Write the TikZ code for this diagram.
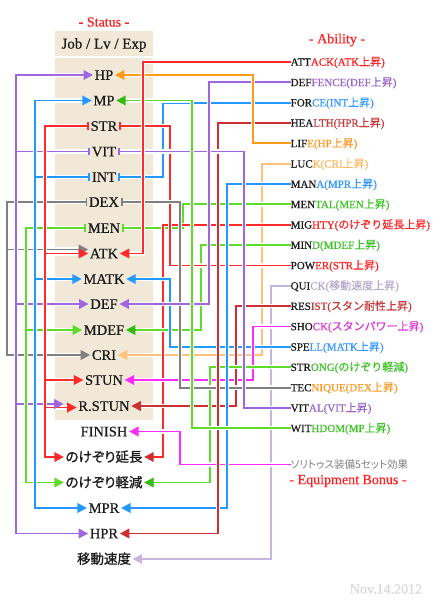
\documentclass[tikz,border=0pt]{standalone}
\usepackage{fontspec}
\setmainfont[RawFeature={embolden=0.5}]{Liberation Serif}
\newfontfamily\cjk[RawFeature={embolden=0.3}]{Noto Sans CJK JP}
\newfontfamily\cjkp[RawFeature={+palt;embolden=1}]{Noto Sans CJK JP}
\newfontfamily\cjkg[RawFeature={+palt}]{Noto Sans CJK JP}
\usetikzlibrary{arrows.meta}
\newcommand\J[1]{{\cjk #1}}
\definecolor{cRed}{HTML}{FF2A2A}
\definecolor{cDRed}{HTML}{CC3030}
\definecolor{cOrange}{HTML}{FF9A1A}
\definecolor{cLOrange}{HTML}{FFC27A}
\definecolor{cPurple}{HTML}{A066DD}
\definecolor{cBlue}{HTML}{2299FF}
\definecolor{cGreen}{HTML}{5FDB2C}
\definecolor{cGreenD}{HTML}{33BB11}
\definecolor{cGray}{HTML}{808080}
\definecolor{cMag}{HTML}{FF2BFF}
\definecolor{cLPurple}{HTML}{C6B6DE}
\definecolor{cBeige}{HTML}{F1E8D8}
\definecolor{cTitle}{HTML}{FF2222}
\definecolor{tRed}{HTML}{FF2222}
\definecolor{tDRed}{HTML}{C83A3A}
\definecolor{tOrange}{HTML}{FF9922}
\definecolor{tLOrange}{HTML}{FFB860}
\definecolor{tPurple}{HTML}{9A66CC}
\definecolor{tBlue}{HTML}{3399FF}
\definecolor{tGreen}{HTML}{3CC425}
\definecolor{tMag}{HTML}{DD33DD}
\definecolor{tLPurple}{HTML}{B8A8C8}
\definecolor{tBlack}{HTML}{1A1A1A}
\tikzset{
  ttl/.style={text=cTitle, font=\fontsize{14}{16}\selectfont, inner sep=0pt},
  st/.style={font=\fontsize{14.5}{16}\selectfont, inner sep=1.5pt, text height=9.6pt, text depth=0pt, text=tBlack},
  stj/.style={st, font=\cjkp\fontsize{13.5}{16}\selectfont},
  ab/.style={anchor=west, inner sep=0pt, font=\fontsize{11}{13}\selectfont, text height=7.4pt, text depth=0pt, text=tBlack},
  soltext/.style={anchor=west, inner sep=0pt, font=\cjkg\fontsize{10.5}{12}\selectfont, text height=7.4pt, text depth=0pt, text=cGray},
  ln/.style={line width=1.9pt, preaction={draw=white, line width=4.3pt}},
  atip/.style={line width=1.9pt, -{Triangle[length=9.5pt,width=9.5pt]}},
  btip/.style={line width=1.9pt, {Bar[width=7.5pt,line width=1.9pt]}-},
}
\begin{document}
\begin{tikzpicture}[x=1pt,y=-1pt]
\fill[white] (0,0) rectangle (433,600);
\useasboundingbox (0,0) rectangle (433,600);
% status panel
\fill[cBeige] (55,31) rectangle (153,420);
\draw[white, line width=1.2pt] (55,57) -- (153,57);
\node[ttl] (tst) at (104,22) {- Status -};
\node[font=\fontsize{15}{17}\selectfont, text=tBlack] (hdr) at (104,45) {Job / Lv / Exp};
\node[ttl] (tab) at (337,40) {- Ability -};
% status nodes
\node[st] (hp) at (104,75) {HP};
\node[st] (mp) at (104,100.5) {MP};
\node[st] (str) at (104,126) {STR};
\node[st] (vit) at (104,151.5) {VIT};
\node[st] (int) at (104,177) {INT};
\node[st] (dex) at (104,202) {DEX};
\node[st] (men) at (104,228) {MEN};
\node[st] (atk) at (104,253.5) {ATK};
\node[st] (matk) at (104,279) {MATK};
\node[st] (def) at (104,304) {DEF};
\node[st] (mdef) at (104,330) {MDEF};
\node[st] (cri) at (104,355) {CRI};
\node[st] (stun) at (104,380) {STUN};
\node[st] (rstun) at (104,406) {R.STUN};
\node[st] (fin) at (104,431.5) {FINISH};
\node[stj] (nob) at (104,457) {のけぞり延長};
\node[stj] (nok) at (104,482.5) {のけぞり軽減};
\node[st] (mpr) at (104,508) {MPR};
\node[st] (hpr) at (104,533.5) {HPR};
\node[stj] (ido) at (104,559) {移動速度};
% ability nodes
\node[ab] (attack) at (290.5,62) {ATT\textcolor{tRed}{ACK(ATK\J{上昇})}};
\node[ab] (deff) at (290.5,82.4) {DEF\textcolor{tPurple}{FENCE(DEF\J{上昇})}};
\node[ab] (force) at (290.5,102.7) {FOR\textcolor{tBlue}{CE(INT\J{上昇})}};
\node[ab] (health) at (290.5,123) {HEA\textcolor{tDRed}{LTH(HPR\J{上昇})}};
\node[ab] (life) at (290.5,143.4) {LIF\textcolor{tOrange}{E(HP\J{上昇})}};
\node[ab] (luck) at (290.5,163.8) {LUC\textcolor{tLOrange}{K(CRI\J{上昇})}};
\node[ab] (mana) at (290.5,184.1) {MAN\textcolor{tBlue}{A(MPR\J{上昇})}};
\node[ab] (mental) at (290.5,204.4) {MEN\textcolor{tGreen}{TAL(MEN\J{上昇})}};
\node[ab] (mighty) at (290.5,224.8) {MIG\textcolor{tRed}{HTY(\J{のけぞり延長上昇})}};
\node[ab] (mind) at (290.5,245.1) {MIN\textcolor{tGreen}{D(MDEF\J{上昇})}};
\node[ab] (power) at (290.5,265.5) {POW\textcolor{tRed}{ER(STR\J{上昇})}};
\node[ab] (quick) at (290.5,285.8) {QUI\textcolor{tLPurple}{CK(\J{移動速度上昇})}};
\node[ab] (resist) at (290.5,306.2) {RES\textcolor{tDRed}{IST(\J{スタン耐性上昇})}};
\node[ab] (shock) at (290.5,326.5) {SHO\textcolor{tMag}{CK(\J{スタンパワー上昇})}};
\node[ab] (spell) at (290.5,346.9) {SPE\textcolor{tBlue}{LL(MATK\J{上昇})}};
\node[ab] (strong) at (290.5,367.2) {STR\textcolor{tGreen}{ONG(\J{のけぞり軽減})}};
\node[ab] (tec) at (290.5,387.6) {TEC\textcolor{tOrange}{NIQUE(DEX\J{上昇})}};
\node[ab] (vital) at (290.5,408) {VIT\textcolor{tPurple}{AL(VIT\J{上昇})}};
\node[ab] (withdom) at (290.5,428.3) {WIT\textcolor{tGreen}{HDOM(MP\J{上昇})}};
\node[soltext] (soli) at (290.5,464.5) {ソリトゥス装備5セット効果};
\node[ttl] (teq) at (348,481) {- Equipment Bonus -};
\node[font=\fontsize{14}{16}\selectfont, text=black!15, inner sep=0pt] (date) at (386,589) {Nov.14.2012};
% vertical track positions
\foreach \v in {7,16,26,35,45,143,163,170,180,183,192,201,209,210,218,227,236,244,253,262,271}
  \coordinate (v\v) at (\v,0);
% left groups
\draw[ln,cGray] (dex.west) -| (v7 |- cri) -- ([xshift=-6pt]cri.west)
  ([yshift=4pt]atk.west -| v7) -- ([xshift=-6pt,yshift=4pt]atk.west);
\draw[ln,cPurple] ([xshift=-6pt]hp.west) -| (v16 |- hpr) -- ([xshift=-6pt]hpr.west)
  (vit.west) -- (vit.west -| v16)
  (def.west -| v16) -- ([xshift=-6pt]def.west)
  ([yshift=2pt]rstun.west -| v16) -- ([xshift=-19pt,yshift=2pt]rstun.west);
\draw[ln,cGreen] (men.west) -| (v26 |- nok) -- ([xshift=-6pt]nok.west)
  (mdef.west -| v26) -- ([xshift=-6pt]mdef.west);
\draw[ln,cBlue] ([xshift=-6pt]mp.west) -| (v35 |- mpr) -- ([xshift=-6pt]mpr.west)
  (int.west) -- (int.west -| v35)
  (matk.west -| v35) -- ([xshift=-6pt]matk.west);
\draw[ln,cRed] (str.west) -| (v45 |- nob) -- ([xshift=-6pt]nob.west)
  (atk.west -| v45) -- ([xshift=-6pt]atk.west)
  (stun.west -| v45) -- ([xshift=-6pt]stun.west)
  ([yshift=-1.5pt]rstun.west -| v45) -- ([xshift=-6pt,yshift=-1.5pt]rstun.west);
% right groups
\draw[ln,cLPurple] (quick.west) -| (v271 |- ido) -- ([xshift=6pt]ido.east);
\draw[ln,cLOrange] (luck.west) -| (v262 |- cri) -- ([xshift=6pt]cri.east);
\draw[ln,cBlue] (force.west) -| (v163 |- int) -- (int.east);
\draw[ln,cGreen] (mental.west) -| (v183 |- men) -- (men.east);
\draw[ln,cRed] (mighty.west) -| (v163 |- nob) -- ([xshift=6pt]nob.east);
\draw[ln,cGreen] (mind.west) -| (v201 |- mdef) -- ([xshift=6pt]mdef.east);
\draw[ln,cRed] (power.west) -| (v170 |- str) -- (str.east);
\draw[ln,cBlue] (spell.west) -| (v170 |- matk) -- ([xshift=6pt]matk.east);
\draw[ln,cMag] (shock.west) -| (v253 |- stun) -- ([xshift=6pt]stun.east);
\draw[ln,cDRed] (resist.west) -| (v236 |- rstun) -- ([xshift=6pt]rstun.east);
\draw[ln,cGreen] (strong.west) -| (v210 |- nok) -- ([xshift=6pt]nok.east);
\draw[ln,cMag] (soli.west) -| (v180 |- fin) -- ([xshift=6pt]fin.east);
\draw[ln,cGray] (tec.west) -| (v180 |- dex) -- (dex.east);
\draw[ln,cBlue] (mana.west) -| (v227 |- mpr) -- ([xshift=6pt]mpr.east);
\draw[ln,cDRed] (health.west) -| (v218 |- hpr) -- ([xshift=6pt]hpr.east);
\draw[ln,cPurple] (vital.west) -| (v244 |- vit) -- (vit.east);
\draw[ln,cPurple] (deff.west) -| (v209 |- def) -- ([xshift=6pt]def.east);
\draw[ln,cGreen] (withdom.west) -| (v192 |- mp) -- ([xshift=6pt]mp.east);
\draw[ln,cOrange] (life.west) -| (v253 |- hp) -- ([xshift=6pt]hp.east);
\draw[ln,cRed] (attack.west) -| (v143 |- atk) -- ([xshift=6pt]atk.east);
% bars at source nodes
\draw[btip,cRed] (str.west) -- ++(-4,0);
\draw[btip,cRed] (str.east) -- ++(4,0);
\draw[btip,cPurple] (vit.west) -- ++(-4,0);
\draw[btip,cPurple] (vit.east) -- ++(4,0);
\draw[btip,cBlue] (int.west) -- ++(-4,0);
\draw[btip,cBlue] (int.east) -- ++(4,0);
\draw[btip,cGray] (dex.west) -- ++(-4,0);
\draw[btip,cGray] (dex.east) -- ++(4,0);
\draw[btip,cGreen] (men.west) -- ++(-4,0);
\draw[btip,cGreen] (men.east) -- ++(4,0);
% left arrowheads
\draw[atip,cPurple] ([xshift=-10pt]hp.west) -- (hp.west);
\draw[atip,cBlue] ([xshift=-10pt]mp.west) -- (mp.west);
\draw[atip,cGray] ([xshift=-10pt,yshift=4pt]atk.west) -- ([yshift=4pt]atk.west);
\draw[atip,cRed] ([xshift=-10pt]atk.west) -- (atk.west);
\draw[atip,cBlue] ([xshift=-10pt]matk.west) -- (matk.west);
\draw[atip,cPurple] ([xshift=-10pt]def.west) -- (def.west);
\draw[atip,cGreen] ([xshift=-10pt]mdef.west) -- (mdef.west);
\draw[atip,cGray] ([xshift=-10pt]cri.west) -- (cri.west);
\draw[atip,cRed] ([xshift=-10pt]stun.west) -- (stun.west);
\draw[atip,cPurple] ([xshift=-23pt,yshift=2pt]rstun.west) -- ([xshift=-13pt,yshift=2pt]rstun.west);
\draw[atip,cRed] ([xshift=-10pt,yshift=-1.5pt]rstun.west) -- ([yshift=-1.5pt]rstun.west);
\draw[atip,cRed] ([xshift=-10pt]nob.west) -- (nob.west);
\draw[atip,cGreen] ([xshift=-10pt]nok.west) -- (nok.west);
\draw[atip,cBlue] ([xshift=-10pt]mpr.west) -- (mpr.west);
\draw[atip,cPurple] ([xshift=-10pt]hpr.west) -- (hpr.west);
% right arrowheads
\draw[atip,cOrange] ([xshift=10pt]hp.east) -- (hp.east);
\draw[atip,cGreenD] ([xshift=10pt]mp.east) -- (mp.east);
\draw[atip,cRed] ([xshift=10pt]atk.east) -- (atk.east);
\draw[atip,cBlue] ([xshift=10pt]matk.east) -- (matk.east);
\draw[atip,cPurple] ([xshift=10pt]def.east) -- (def.east);
\draw[atip,cGreenD] ([xshift=10pt]mdef.east) -- (mdef.east);
\draw[atip,cLOrange] ([xshift=10pt]cri.east) -- (cri.east);
\draw[atip,cMag] ([xshift=10pt]stun.east) -- (stun.east);
\draw[atip,cDRed] ([xshift=10pt]rstun.east) -- (rstun.east);
\draw[atip,cMag] ([xshift=10pt]fin.east) -- (fin.east);
\draw[atip,cDRed] ([xshift=10pt]nob.east) -- (nob.east);
\draw[atip,cGreenD] ([xshift=10pt]nok.east) -- (nok.east);
\draw[atip,cBlue] ([xshift=10pt]mpr.east) -- (mpr.east);
\draw[atip,cDRed] ([xshift=10pt]hpr.east) -- (hpr.east);
\draw[atip,cLPurple] ([xshift=10pt]ido.east) -- (ido.east);
\end{tikzpicture}
\end{document}
